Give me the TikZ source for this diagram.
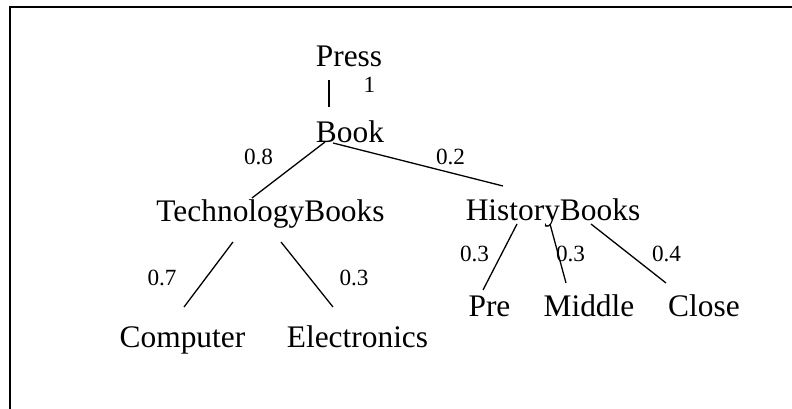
\documentclass[tikz,border=0pt]{standalone}
\usepackage{fontspec}
\setmainfont{Liberation Serif}
\begin{document}
\begin{tikzpicture}[x=1pt,y=1pt,
  big/.style={anchor=base,inner sep=0pt,font=\fontsize{31.4}{36}\selectfont},
  small/.style={anchor=base,inner sep=0pt,font=\fontsize{23.2}{27}\selectfont},
  edge/.style={line width=1.3pt},
  frame/.style={line width=1.6pt}]
\useasboundingbox (0,0) rectangle (792,409);
\draw[frame] (10,-2) -- (10,402) -- (794,402);
% nodes
\node[big] (press) at (349,342) {Press};
\node[small] (w1) at (369.5,316) {1};
\node[big] (book) at (350,266) {Book};
\node[small] (w08) at (258.5,244) {0.8};
\node[small] (w02) at (450.5,244) {0.2};
\node[big] (tech) at (270.5,187) {TechnologyBooks};
\node[big] (hist) at (553,188) {HistoryBooks};
\node[small] (w07) at (162,123) {0.7};
\node[small] (w03a) at (354,123) {0.3};
\node[big] (comp) at (182.5,61) {Computer};
\node[big] (elec) at (357.5,61) {Electronics};
\node[small] (w03b) at (474.5,147) {0.3};
\node[small] (w03c) at (570.5,147) {0.3};
\node[small] (w04) at (666.5,147) {0.4};
\node[big] (pre) at (489.5,92) {Pre};
\node[big] (mid) at (589,92) {Middle};
\node[big] (close) at (704,92) {Close};
% connectors
\draw[edge] ([xshift=-20pt,yshift=-13pt]press.base) -- ([xshift=-21pt,yshift=36pt]book.base);
\draw[edge] ([xshift=-25pt,yshift=1pt]book.base) -- ([xshift=-18.5pt,yshift=24pt]tech.base);
\draw[edge] ([xshift=-17pt,yshift=0pt]book.base) -- ([xshift=-50pt,yshift=35pt]hist.base);
\draw[edge] ([xshift=-37.5pt,yshift=-20pt]tech.base) -- ([xshift=1.5pt,yshift=41pt]comp.base);
\draw[edge] ([xshift=10.5pt,yshift=-20pt]tech.base) -- ([xshift=-24.5pt,yshift=41pt]elec.base);
\draw[edge] ([xshift=-36pt,yshift=-3pt]hist.base) -- ([xshift=-6.5pt,yshift=27pt]pre.base);
\draw[edge] ([xshift=-3pt,yshift=-3pt]hist.base) -- ([xshift=-23pt,yshift=34pt]mid.base);
\draw[edge] ([xshift=38pt,yshift=-3pt]hist.base) -- ([xshift=-38pt,yshift=34pt]close.base);
\end{tikzpicture}
\end{document}
